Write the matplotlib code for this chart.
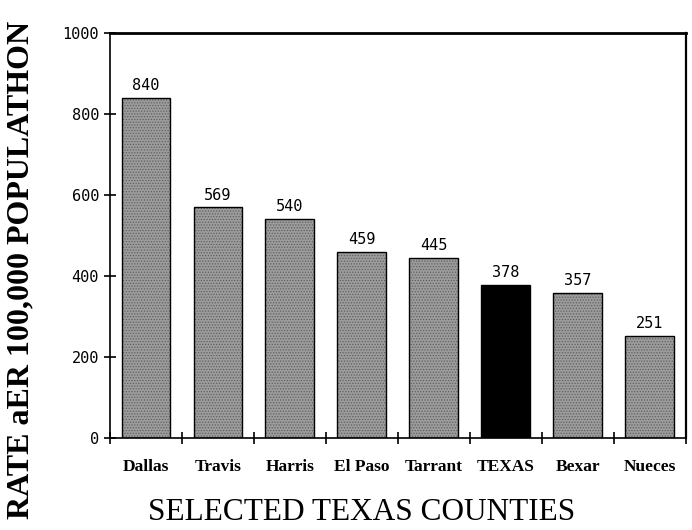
import numpy as np
import matplotlib
matplotlib.use("Agg")
import matplotlib.pyplot as plt

# values
counties = ["Dallas", "Travis", "Harris", "El Paso", "Tarrant", "TEXAS", "Bexar", "Nueces"]
rates = [840, 569, 540, 459, 445, 378, 357, 251]
yticks = [0, 200, 400, 600, 800, 1000]

fig = plt.figure(figsize=(6.92, 5.30), dpi=100)
ax = fig.add_axes([0.159, 0.174, 0.832, 0.764])

x = np.arange(len(counties))
colors = ["black" if c == "TEXAS" else "#9c9c9c" for c in counties]

plt.rcParams['hatch.color'] = '#606060'
plt.rcParams['hatch.linewidth'] = 0.6
for xi, val, col in zip(x, rates, colors):
    hatch = None if col == "black" else "......"
    ax.bar(xi, val, width=0.68, color=col, hatch=hatch, edgecolor="#606060" if hatch else "black", linewidth=0)
    ax.bar(xi, val, width=0.68, facecolor="none", edgecolor="black", linewidth=1.0)
    ax.text(xi, val + 12, str(val), ha="center", va="bottom",
            family="DejaVu Sans Mono", fontsize=11)

ax.set_xlim(-0.5, len(counties) - 0.5)
ax.set_ylim(0, 1000)

# ticks between the bars, labels under them
ax.set_xticks(np.arange(len(counties) + 1) - 0.5)
ax.set_xticklabels([])
ax.set_xticks(x, minor=True)
ax.set_xticklabels(counties, minor=True, family="Liberation Serif", fontweight="bold", fontsize=12.5)
ax.tick_params(axis="x", which="minor", length=0, pad=15)
ax.tick_params(axis="x", which="major", direction="inout", length=8, width=1.2)

ax.set_yticks(yticks)
ax.set_yticklabels([str(v) for v in yticks], family="DejaVu Sans Mono", fontsize=11)
ax.tick_params(axis="y", direction="inout", length=8, width=1.2, pad=4)

ax.spines["left"].set_linewidth(1.2)
ax.spines["bottom"].set_linewidth(1.2)
ax.spines["top"].set_linewidth(2.0)
ax.spines["right"].set_linewidth(1.6)

fig.text(0.523, 0.033, "SELECTED TEXAS COUNTIES", ha="center", va="center",
         family="Liberation Serif", fontsize=22.5)
fig.text(0.03, 0.49, "RATE aER 100,000 POPULATHON", rotation=90, ha="center", va="center",
         family="Liberation Serif", fontweight="bold", fontsize=23)

fig.savefig("out.png", dpi=100)
